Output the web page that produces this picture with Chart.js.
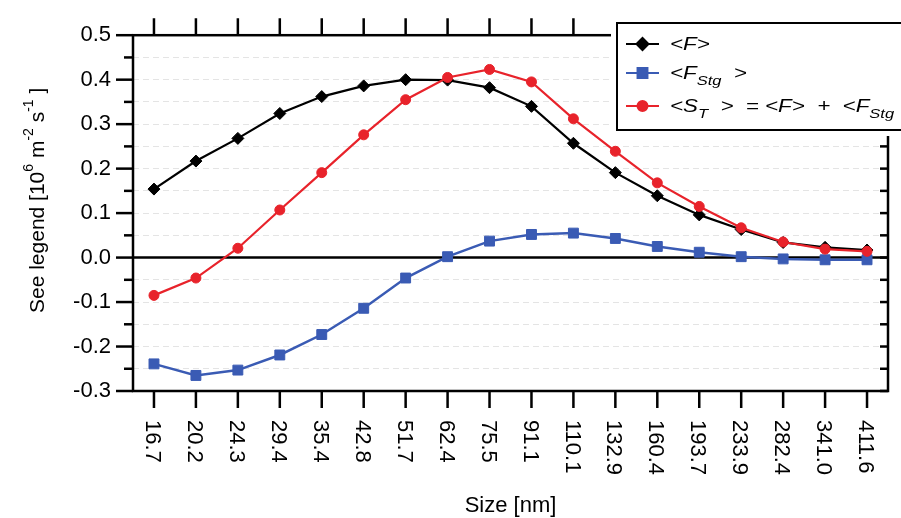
<!DOCTYPE html>
<html lang="en">
<head>
  <meta charset="UTF-8" />
  <title>Flux vs size</title>
  <script src="https://cdn.jsdelivr.net/npm/chart.js"></script>
  <style>
    html, body { margin: 0; padding: 0; background: #fff; }
    #wrap { width: 901px; height: 518px; }
  </style>
</head>
<body>
  <div id="wrap"><canvas id="fluxChart" width="901" height="518"></canvas></div>

  <script>
    // size bins [nm]
    const sizes = ["16.7", "20.2", "24.3", "29.4", "35.4", "42.8", "51.7", "62.4", "75.5",
                   "91.1", "110.1", "132.9", "160.4", "193.7", "233.9", "282.4", "341.0", "411.6"];

    // <F>
    const meanF = [0.154, 0.217, 0.268, 0.324, 0.362, 0.386, 0.400, 0.399, 0.382,
                   0.340, 0.257, 0.191, 0.139, 0.096, 0.063, 0.034, 0.023, 0.017];
    // <F_Stg>
    const meanFStg = [-0.239, -0.265, -0.253, -0.219, -0.173, -0.114, -0.046, 0.002, 0.037,
                      0.052, 0.055, 0.043, 0.025, 0.012, 0.002, -0.003, -0.005, -0.005];
    // <S_T> = <F> + <F_Stg>
    const meanST = [-0.085, -0.046, 0.021, 0.107, 0.191, 0.276, 0.355, 0.405, 0.423,
                    0.395, 0.312, 0.239, 0.168, 0.115, 0.067, 0.035, 0.019, 0.014];

    const yMin = -0.3, yMax = 0.5, yStep = 0.05;

    const FONT = '"Liberation Sans", Arial, Helvetica, sans-serif';
    const BLUE = "#3a5bb4";
    const RED = "#e8232b";

    const isMajor = v => Math.abs(Math.round(v * 100)) % 10 === 0;

    // draws a run of text pieces, some of them subscript
    function drawRich(ctx, x, y, parts, size, stretch) {
      ctx.save();
      ctx.translate(x, y);
      ctx.scale(stretch, 1);
      let cx = 0;
      parts.forEach(p => {
        const s = p.shift ? size * 0.74 : size;
        ctx.font = "italic " + s + "px " + FONT;
        ctx.fillText(p.t, cx, p.shift || 0);
        cx += ctx.measureText(p.t).width;
      });
      ctx.restore();
    }

    const legendRows = [
      { color: "#000", style: "rectRot", radius: 6,
        parts: [{ t: "<F>" }] },
      { color: BLUE, style: "rect", radius: 7,
        parts: [{ t: "<F" }, { t: "Stg", shift: 6 }, { t: "  >" }] },
      { color: RED, style: "circle", radius: 5,
        parts: [{ t: "<S" }, { t: "T", shift: 6 }, { t: "  >  = <F>  +  <F" }, { t: "Stg", shift: 6 }, { t: "  >" }] }
    ];

    const igorFrame = {
      id: "igorFrame",
      beforeDatasetsDraw(chart) {
        const { ctx, chartArea: a, scales: { y } } = chart;
        const y0 = y.getPixelForValue(0);
        ctx.save();
        ctx.strokeStyle = "#000";
        ctx.lineWidth = 2.5;
        ctx.beginPath();
        ctx.moveTo(a.left, y0);
        ctx.lineTo(a.right, y0);
        ctx.stroke();
        ctx.restore();
      },
      afterDatasetsDraw(chart) {
        const { ctx, chartArea: a, scales: { x, y } } = chart;
        ctx.save();
        ctx.strokeStyle = "#000";
        ctx.fillStyle = "#000";

        // frame
        ctx.lineWidth = 2.5;
        ctx.strokeRect(a.left, a.top, a.right - a.left, a.bottom - a.top);

        // left ticks outward, right ticks inward
        y.ticks.forEach(t => {
          const py = y.getPixelForValue(t.value);
          const len = isMajor(t.value) ? 17 : 9;
          ctx.beginPath();
          ctx.moveTo(a.left - len, py);
          ctx.lineTo(a.left, py);
          ctx.stroke();
          ctx.beginPath();
          ctx.moveTo(a.right, py);
          ctx.lineTo(a.right - 8, py);
          ctx.stroke();
        });

        // category ticks top and bottom
        sizes.forEach((s, i) => {
          const px = x.getPixelForValue(i);
          ctx.beginPath();
          ctx.moveTo(px, a.top - 17);
          ctx.lineTo(px, a.top);
          ctx.moveTo(px, a.bottom);
          ctx.lineTo(px, a.bottom + 17);
          ctx.stroke();
        });

        // x labels, turned clockwise
        ctx.font = "22px " + FONT;
        ctx.textAlign = "left";
        ctx.textBaseline = "alphabetic";
        sizes.forEach((s, i) => {
          const px = x.getPixelForValue(i);
          ctx.save();
          ctx.translate(px, a.bottom + 29);
          ctx.rotate(Math.PI / 2);
          ctx.fillText(s, 0, 7.9);
          ctx.restore();
        });

        // x title
        ctx.textAlign = "center";
        ctx.font = "22px " + FONT;
        ctx.fillText("Size [nm]", (a.left + a.right) / 2, 512);

        // y title with superscripts
        ctx.save();
        ctx.translate(44, 313);
        ctx.rotate(-Math.PI / 2);
        ctx.textAlign = "left";
        const main = 21, sup = 14, up = -11;
        let cx = 0;
        [["See legend [10", 0], ["6", 1], [" m", 0], ["-2", 1], [" s", 0], ["-1", 1], [" ]", 0]].forEach(([t, isSup]) => {
          ctx.font = (isSup ? sup : main) + "px " + FONT;
          ctx.fillText(t, cx, isSup ? up : 0);
          cx += ctx.measureText(t).width;
        });
        ctx.restore();

        // legend box
        ctx.fillStyle = "#fff";
        ctx.fillRect(611, 17, 290, 119);
        ctx.lineWidth = 2;
        ctx.strokeStyle = "#000";
        ctx.strokeRect(617, 23, 300, 107);

        const rowY = [44, 73, 106];
        legendRows.forEach((r, i) => {
          const ry = rowY[i];
          ctx.strokeStyle = r.color;
          ctx.fillStyle = r.color;
          ctx.lineWidth = 2;
          ctx.beginPath();
          ctx.moveTo(626, ry);
          ctx.lineTo(659, ry);
          ctx.stroke();
          Chart.helpers.drawPoint(ctx, { pointStyle: r.style, radius: r.radius, rotation: 0, borderWidth: 1 }, 642.5, ry);
          ctx.fillStyle = "#000";
          ctx.textAlign = "left";
          drawRich(ctx, 670, ry + 6.4, r.parts, 18, 1.24);
        });

        ctx.restore();
      }
    };

    const ctx = document.getElementById("fluxChart").getContext("2d");
    new Chart(ctx, {
      type: "line",
      data: {
        labels: sizes,
        datasets: [
          {
            label: "<F>",
            data: meanF,
            borderColor: "#000",
            backgroundColor: "#000",
            borderWidth: 2.2,
            pointStyle: "rectRot",
            pointRadius: 6,
            pointBorderWidth: 1,
            order: 1
          },
          {
            label: "<F Stg >",
            data: meanFStg,
            borderColor: BLUE,
            backgroundColor: BLUE,
            borderWidth: 2.5,
            pointStyle: "rect",
            pointRadius: 7,
            pointBorderWidth: 1,
            order: 2
          },
          {
            label: "<S T > = <F> + <F Stg >",
            data: meanST,
            borderColor: RED,
            backgroundColor: RED,
            borderWidth: 2.2,
            pointStyle: "circle",
            pointRadius: 5,
            pointBorderWidth: 1,
            order: 0
          }
        ]
      },
      options: {
        responsive: false,
        devicePixelRatio: 1,
        animation: false,
        layout: { padding: { left: 0, right: 13, top: 29, bottom: 127 } },
        plugins: {
          legend: { display: false },
          tooltip: { enabled: false }
        },
        scales: {
          x: {
            type: "category",
            offset: true,
            display: false
          },
          y: {
            min: yMin,
            max: yMax,
            afterFit: s => { s.width = 133; },
            ticks: {
              stepSize: yStep,
              autoSkip: false,
              color: "#000",
              padding: 22,
              font: { family: FONT, size: 22 },
              callback: v => isMajor(v) ? (Math.round(v * 10) / 10).toFixed(1) : ""
            },
            grid: {
              drawTicks: false,
              lineWidth: 1,
              color: c => {
                const v = c.tick ? c.tick.value : 0;
                if (Math.abs(v) < 1e-9 || Math.abs(v - yMax) < 1e-9 || Math.abs(v - yMin) < 1e-9) return "rgba(0,0,0,0)";
                return "#e4e4e4";
              }
            },
            border: { display: false, dash: [6, 4] }
          }
        }
      },
      plugins: [igorFrame]
    });
  </script>
</body>
</html>
